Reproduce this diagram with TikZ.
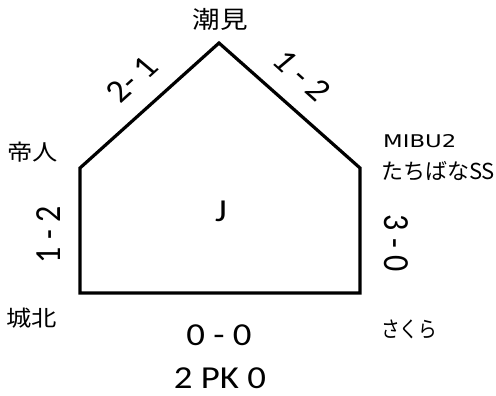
\documentclass[tikz,border=0pt]{standalone}
\usepackage{fontspec}
\setmainfont{Carlito}
\newfontfamily\jpfont{Noto Sans CJK JP}
\newfontfamily\widefont[FakeStretch=1.3]{DejaVu Sans}

\begin{document}
\begin{tikzpicture}[x=1pt,y=-1pt,
  score/.style={font=\fontsize{32}{38}\selectfont, inner sep=0pt, xscale=1.15},
  team/.style={font=\jpfont\fontsize{22}{26}\selectfont, inner sep=0pt, xscale=1.15},
  kana/.style={font=\jpfont\fontsize{22}{26}\selectfont, inner sep=0pt, anchor=west}]
\useasboundingbox (0,0) rectangle (496,396);

\coordinate (v1) at (219,43);
\coordinate (v2) at (80,168);
\coordinate (v3) at (80,293);
\coordinate (v4) at (360,293);
\coordinate (v5) at (360,168);
\draw [line width=3.2pt] (v1) -- (v2) -- (v3) -- (v4) -- (v5) -- cycle;

\node [team, font=\jpfont\fontsize{24}{28}\selectfont] (t1) at (220,19) {潮見};
\node [team] (t2) at (33,152) {帝人};
\node [team] (t3) at (32,318) {城北};
\node [kana, xscale=0.85] (t4) at (381,329) {さくら};
\node [kana, font=\widefont\fontsize{17.5}{21}\selectfont] (t5) at (383,141) {MIBU2};
\node [kana] (t6) at (381,171) {たちばなSS};

\node [score] (j) at (221,211) {J};
\node [score, rotate=46] (s1) at (132,79) {2- 1};
\node [score, rotate=-46] (s2) at (302,76) {1 - 2};
\node [score, rotate=90] (s3) at (49,235) {1 - 2};
\node [score, rotate=-90] (s4) at (396,243) {3 - 0};
\node [score] (s5) at (219,335) {0 - 0};
\node [score] (s6) at (220,378) {2 PK 0};
\end{tikzpicture}
\end{document}
